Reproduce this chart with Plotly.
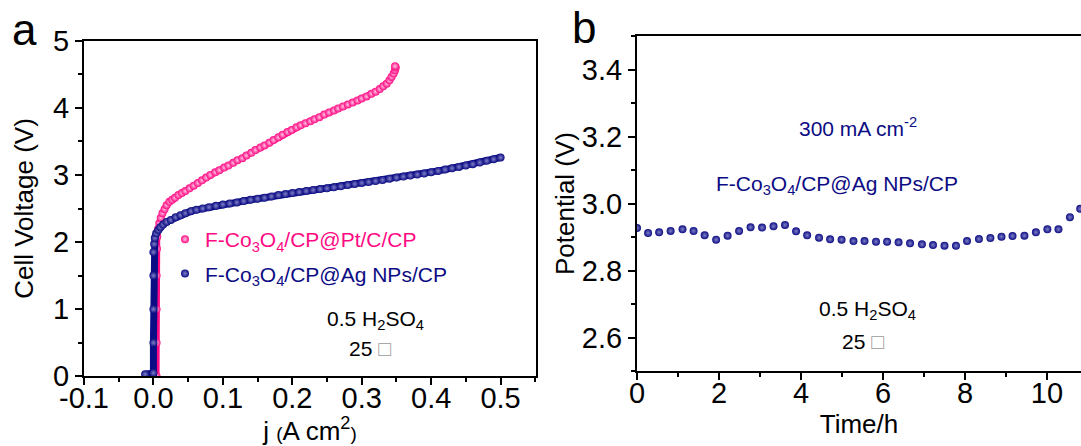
import plotly.graph_objects as go

# ---- panel a: polarisation curves (current density vs cell voltage) ----
pt_j = [0.0045, 0.0045, 0.0045, 0.0045, 0.005, 0.0055, 0.0068, 0.0085, 0.0105, 0.013,
        0.016, 0.019, 0.023, 0.027, 0.031, 0.036, 0.041, 0.046, 0.052, 0.058,
        0.064, 0.070, 0.076, 0.082, 0.089, 0.095, 0.102, 0.108, 0.115, 0.121,
        0.128, 0.134, 0.141, 0.147, 0.154, 0.160, 0.167, 0.173, 0.180, 0.186,
        0.193, 0.199, 0.206, 0.212, 0.219, 0.226, 0.232, 0.239, 0.246, 0.253,
        0.260, 0.266, 0.273, 0.280, 0.287, 0.294, 0.300, 0.307, 0.314, 0.320,
        0.326, 0.331, 0.336, 0.340, 0.343, 0.346, 0.348, 0.349, 0.348]
pt_v = [0.00, 0.50, 1.00, 1.50, 1.90, 2.08, 2.20, 2.28, 2.36, 2.43,
        2.49, 2.55, 2.60, 2.63, 2.66, 2.70, 2.73, 2.76, 2.80, 2.84,
        2.88, 2.92, 2.96, 3.00, 3.04, 3.07, 3.11, 3.14, 3.18, 3.22,
        3.25, 3.29, 3.33, 3.37, 3.41, 3.44, 3.48, 3.52, 3.56, 3.60,
        3.64, 3.67, 3.71, 3.74, 3.77, 3.80, 3.83, 3.86, 3.90, 3.93,
        3.96, 3.99, 4.02, 4.05, 4.08, 4.11, 4.14, 4.17, 4.21, 4.24,
        4.28, 4.32, 4.36, 4.41, 4.46, 4.51, 4.56, 4.60, 4.62]

ag_j = [-0.012, 0.000, 0.000, 0.000, 0.000, 0.000, 0.001, 0.002, 0.004, 0.007,
        0.010, 0.014, 0.019, 0.025, 0.032, 0.039, 0.046, 0.054, 0.062, 0.071,
        0.080, 0.090, 0.100, 0.110, 0.120, 0.130, 0.140, 0.150, 0.160, 0.170,
        0.180, 0.190, 0.200, 0.210, 0.220, 0.230, 0.240, 0.250, 0.260, 0.270,
        0.280, 0.290, 0.300, 0.310, 0.320, 0.330, 0.340, 0.350, 0.360, 0.370,
        0.380, 0.390, 0.400, 0.410, 0.420, 0.430, 0.440, 0.450, 0.460, 0.470,
        0.480, 0.490, 0.500]
ag_v = [0.03, 0.05, 0.50, 1.00, 1.50, 1.85, 1.97, 2.06, 2.13, 2.18,
        2.22, 2.26, 2.30, 2.33, 2.37, 2.40, 2.43, 2.46, 2.48, 2.50,
        2.52, 2.54, 2.56, 2.575, 2.59, 2.61, 2.63, 2.645, 2.66, 2.68,
        2.70, 2.715, 2.73, 2.745, 2.76, 2.775, 2.79, 2.80, 2.815, 2.83,
        2.85, 2.865, 2.88, 2.895, 2.91, 2.925, 2.945, 2.96, 2.975, 2.99,
        3.005, 3.02, 3.04, 3.06, 3.08, 3.10, 3.12, 3.14, 3.16, 3.185,
        3.21, 3.235, 3.26]

# ---- panel b: stability at 300 mA cm-2 ----
time_h = [0.00, 0.27, 0.54, 0.82, 1.11, 1.38, 1.65, 1.93, 2.21, 2.49,
          2.77, 3.05, 3.33, 3.61, 3.88, 4.15, 4.44, 4.71, 4.99, 5.28,
          5.55, 5.83, 6.10, 6.38, 6.66, 6.95, 7.22, 7.50, 7.78, 8.05,
          8.34, 8.62, 8.89, 9.16, 9.45, 9.73, 10.01, 10.28, 10.56, 10.81]
potential_v = [2.927, 2.912, 2.914, 2.918, 2.923, 2.918, 2.905, 2.892, 2.904, 2.918,
               2.929, 2.928, 2.932, 2.936, 2.917, 2.905, 2.898, 2.893, 2.892, 2.888,
               2.888, 2.886, 2.886, 2.884, 2.881, 2.878, 2.876, 2.874, 2.874, 2.888,
               2.894, 2.897, 2.901, 2.903, 2.904, 2.914, 2.923, 2.923, 2.959, 2.984]

a_xticks = [-0.1, 0.0, 0.1, 0.2, 0.3, 0.4, 0.5]
a_xlabels = ["-0.1", "0.0", "0.1", "0.2", "0.3", "0.4", "0.5"]
a_yticks = [0, 1, 2, 3, 4, 5]
b_xticks = [0, 2, 4, 6, 8, 10]
b_yticks = [2.6, 2.8, 3.0, 3.2, 3.4]
b_ylabels = ["2.6", "2.8", "3.0", "3.2", "3.4"]

PINK = "#FF0A84"
NAVY = "#0C0C84"
FONT = "Liberation Sans, Arial, sans-serif"
W, H = 1081, 446

fig = go.Figure()

# continuous body under the beads so the densely sampled vertical rise reads solid
fig.add_trace(go.Scatter(x=pt_j, y=pt_v, mode="lines", line=dict(color=PINK, width=6),
                         showlegend=False, hoverinfo="skip", xaxis="x", yaxis="y"))
fig.add_trace(go.Scatter(x=pt_j, y=pt_v, mode="markers",
                         marker=dict(size=8, color=PINK,
                                     gradient=dict(type="radial", color="#FFC6E2")),
                         name=f"<span style='color:{PINK}'>F-Co<sub>3</sub>O<sub>4</sub>/CP@Pt/C/CP</span>",
                         legendgroup="pt", xaxis="x", yaxis="y"))
fig.add_trace(go.Scatter(x=ag_j, y=ag_v, mode="lines", line=dict(color=NAVY, width=7),
                         showlegend=False, hoverinfo="skip", xaxis="x", yaxis="y"))
fig.add_trace(go.Scatter(x=ag_j, y=ag_v, mode="markers",
                         marker=dict(size=8, color=NAVY,
                                     gradient=dict(type="radial", color="#8080C8")),
                         name=f"<span style='color:{NAVY}'>F-Co<sub>3</sub>O<sub>4</sub>/CP@Ag NPs/CP</span>",
                         legendgroup="ag", xaxis="x", yaxis="y"))

fig.add_trace(go.Scatter(x=time_h, y=potential_v, mode="markers",
                         marker=dict(size=8, color=NAVY,
                                     gradient=dict(type="radial", color="#8080C8")),
                         showlegend=False, xaxis="x2", yaxis="y2"))

axis_common = dict(showgrid=False, zeroline=False, showline=True, linecolor="black",
                   linewidth=2, ticks="outside", ticklen=7, tickwidth=2, tickcolor="black",
                   automargin=False,
                   tickfont=dict(family=FONT, size=29, color="black"))
minor_common = dict(ticklen=4, tickwidth=2, ticks="outside", tickcolor="black")


def px_x(p):
    return p / W


def px_y(p):
    return 1 - p / H


fig.update_layout(
    width=W, height=H,
    margin=dict(l=0, r=0, t=0, b=0),
    paper_bgcolor="white", plot_bgcolor="white",
    font=dict(family=FONT, color="black"),
    xaxis=dict(axis_common, domain=[px_x(84), px_x(536)], range=[-0.1, 0.551],
               tickvals=a_xticks, ticktext=a_xlabels, mirror=True, ticklabelstandoff=-12,
               minor=dict(minor_common, dtick=0.05),
               title=dict(text="j <span style='font-size:19px'>(</span>A cm<sup>2</sup><span style='font-size:19px'>)</span>",
                          font=dict(family=FONT, size=26), standoff=5),
               anchor="y"),
    yaxis=dict(axis_common, domain=[px_y(376.3), px_y(40.7)], range=[0, 5],
               tickvals=a_yticks, mirror=True,
               minor=dict(minor_common, dtick=0.5),
               title=dict(text="Cell Voltage (V)", font=dict(family=FONT, size=26), standoff=12),
               anchor="x"),
    xaxis2=dict(axis_common, domain=[px_x(637), 1.0], range=[0, 10.83],
                tickvals=b_xticks, mirror=True, ticklabelstandoff=-12,
                minor=dict(minor_common, dtick=1),
                title=dict(text="Time/h", font=dict(family=FONT, size=26), standoff=1),
                anchor="y2"),
    yaxis2=dict(axis_common, domain=[px_y(371), px_y(36)], range=[2.5, 3.5],
                tickvals=b_yticks, ticktext=b_ylabels, mirror=False,
                minor=dict(minor_common, dtick=0.1),
                title=dict(text="Potential (V)", font=dict(family=FONT, size=26), standoff=0),
                anchor="x2"),
    legend=dict(x=px_x(165), y=px_y(219), xanchor="left", yanchor="top",
                bgcolor="rgba(0,0,0,0)", font=dict(family=FONT, size=21),
                tracegroupgap=4, itemwidth=30),
    showlegend=True,
)

box = "<span style='color:#9a9a9a'>□</span>"
annotations = [
    dict(x=px_x(10), y=px_y(30), text="a", font=dict(size=44)),
    dict(x=px_x(570), y=px_y(28), text="b", font=dict(size=44)),
    dict(x=px_x(375), y=px_y(320), text="0.5 H<sub>2</sub>SO<sub>4</sub>", font=dict(size=21),
         xanchor="center"),
    dict(x=px_x(370), y=px_y(348), text="25 " + box, font=dict(size=21), xanchor="center"),
    dict(x=px_x(858), y=px_y(127), text="300 mA cm<sup>-2</sup>", font=dict(size=21, color=NAVY),
         xanchor="center"),
    dict(x=px_x(837), y=px_y(185),
         text="F-Co<sub>3</sub>O<sub>4</sub>/CP@Ag NPs/CP", font=dict(size=21, color=NAVY),
         xanchor="center"),
    dict(x=px_x(867), y=px_y(310), text="0.5 H<sub>2</sub>SO<sub>4</sub>", font=dict(size=21),
         xanchor="center"),
    dict(x=px_x(863), y=px_y(341), text="25 " + box, font=dict(size=21), xanchor="center"),
]
for a in annotations:
    a.setdefault("xanchor", "left")
    a["xref"] = "paper"
    a["yref"] = "paper"
    a["yanchor"] = "middle"
    a["showarrow"] = False
    a["font"] = dict(family=FONT, color=a["font"].get("color", "black"), size=a["font"]["size"])
    fig.add_annotation(**a)

fig.write_html("out.html")
